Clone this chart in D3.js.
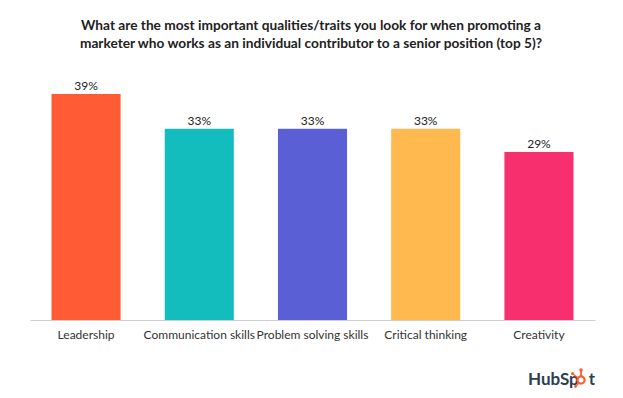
<!DOCTYPE html>
<html><head><meta charset="utf-8">
<script src="https://cdn.jsdelivr.net/npm/d3@7"></script>
<style>body{margin:0;background:#fff}svg{display:block}text{font-family:"Lato","Noto Sans",sans-serif}</style>
</head><body>
<svg id="c" width="623" height="398"></svg>
<script>
const categories = ["Leadership","Communication skills","Problem solving skills","Critical thinking","Creativity"];
const values = [39,33,33,33,29];
const colors = ["#FF5C35","#13BDBD","#5B5FD6","#FFB94F","#F72F6E"];
const titleLines = ["What are the most important qualities/traits you look for when promoting a","marketer who works as an individual contributor to a senior position (top 5)?"];

const svg = d3.select("#c");
const baseY = 320;
const x = d3.scaleBand().domain(categories).range([30,595]).paddingInner(0.39).paddingOuter(0.19);
const y = d3.scaleLinear().domain([0,39]).range([baseY,94]);

svg.append("g").selectAll("text").data(titleLines).join("text")
  .attr("x",311).attr("y",(d,i)=>30+i*18).attr("text-anchor","middle")
  .attr("font-size",13.7).attr("font-weight",700).attr("fill","#222").text(d=>d);

svg.append("g").selectAll("rect").data(values).join("rect")
  .attr("x",(d,i)=>x(categories[i])).attr("width",x.bandwidth())
  .attr("y",d=>y(d)).attr("height",d=>baseY-y(d))
  .attr("fill",(d,i)=>colors[i]);

svg.append("g").selectAll("text").data(values).join("text")
  .attr("x",(d,i)=>x(categories[i])+x.bandwidth()/2).attr("y",d=>y(d)-4)
  .attr("text-anchor","middle").attr("font-size",12).attr("fill","#222").text(d=>d+"%");

const ax = svg.append("g").attr("transform",`translate(0,${baseY})`)
  .call(d3.axisBottom(x).tickSize(0).tickPadding(10));
ax.select(".domain").attr("stroke","#cfcfcf");
ax.selectAll("text").attr("font-size",12).attr("fill","#333").attr("font-family","Lato, sans-serif");

// HubSpot logo
const logo = svg.append("g");
const lt = logo.append("text").attr("x",528).attr("y",385).attr("font-size",17).attr("font-weight",700).attr("fill","#2D3E50");
lt.append("tspan").text("HubSp");
lt.append("tspan").attr("dx",10).text("t");
const sx = 581, sy = 380;
logo.append("circle").attr("cx",sx).attr("cy",sy).attr("r",3.6).attr("fill","none").attr("stroke","#FF5C35").attr("stroke-width",2.2);
logo.append("line").attr("x1",sx).attr("y1",sy-4).attr("x2",sx).attr("y2",sy-9).attr("stroke","#FF5C35").attr("stroke-width",1.8);
logo.append("circle").attr("cx",sx).attr("cy",sy-10).attr("r",1.8).attr("fill","#FF5C35");
logo.append("line").attr("x1",sx-3).attr("y1",sy-2).attr("x2",sx-8).attr("y2",sy-6).attr("stroke","#FF5C35").attr("stroke-width",1.4);
logo.append("circle").attr("cx",sx-8.5).attr("cy",sy-6.5).attr("r",1.6).attr("fill","#FF5C35");
logo.append("line").attr("x1",sx-2).attr("y1",sy+3).attr("x2",sx-5).attr("y2",sy+6).attr("stroke","#FF5C35").attr("stroke-width",1.4);
logo.append("circle").attr("cx",sx-5.5).attr("cy",sy+6.5).attr("r",1.4).attr("fill","#FF5C35");
</script>
</body></html>
